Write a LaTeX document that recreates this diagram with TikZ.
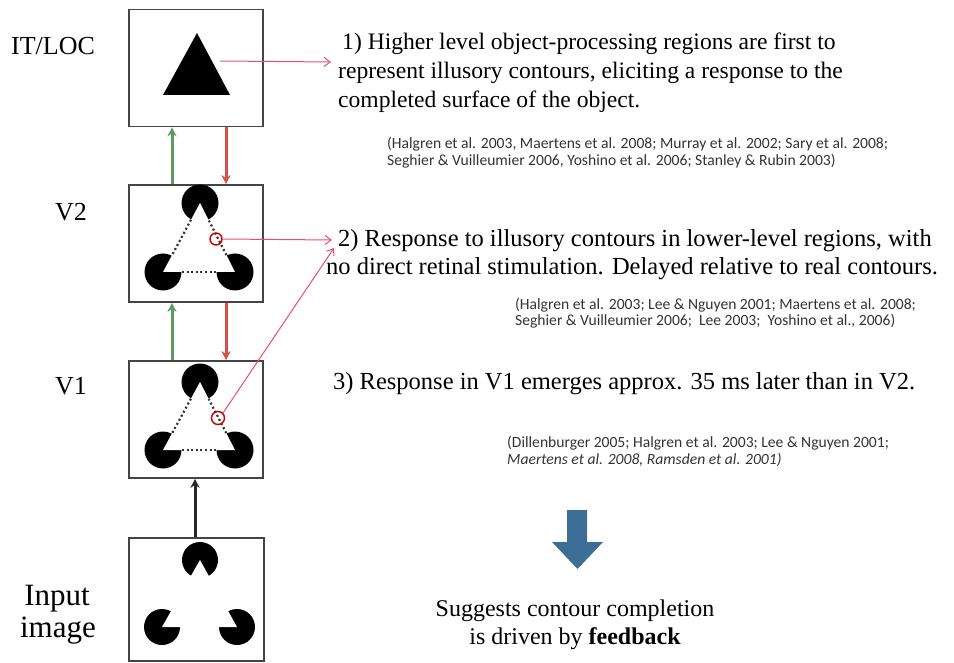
\documentclass[tikz,border=0pt]{standalone}
\usepackage{fontspec}
\setmainfont{Liberation Serif}
\newfontfamily\citefont{Carlito}
\usetikzlibrary{calc,arrows.meta}
\definecolor{grarrow}{HTML}{5E9A60}
\definecolor{rdarrow}{HTML}{D4504A}
\definecolor{pinkline}{HTML}{E8506A}
\definecolor{bluearrow}{HTML}{3D6E95}
\definecolor{boxgray}{HTML}{444444}
\definecolor{citegray}{HTML}{333333}
\tikzset{
  x=1pt,y=-1pt,
  areabox/.style={draw=boxgray,line width=1.6pt,minimum width=134pt,minimum height=117pt,inner sep=0pt},
  arealabel/.style={font=\fontsize{26}{30}\selectfont,anchor=base,inner sep=0pt},
  itemone/.style={font=\fontsize{23.6}{28}\selectfont,anchor=base west,inner sep=0pt},
  itemtext/.style={font=\fontsize{24.5}{28}\selectfont,anchor=base west,inner sep=0pt},
  citetext/.style={font=\citefont\fontsize{15.6}{17}\selectfont,text=citegray,anchor=base west,inner sep=0pt},
  fwd/.style={draw=grarrow,line width=3pt,-{Stealth[length=9pt,width=9pt]}},
  fbk/.style={draw=rdarrow,line width=3pt,-{Stealth[length=9pt,width=9pt]}},
  inarrow/.style={draw=black!85,line width=3pt,-{Stealth[length=9pt,width=9pt]}},
  pointer/.style={draw=pinkline,line width=1pt,-{Straight Barb[length=6pt,width=9pt]}},
  illus/.style={draw=black!80,line width=2.2pt,dash pattern=on 2pt off 2.6pt,shorten <=19pt,shorten >=19pt},
  ring/.style={draw=red!80!black,line width=1.4pt},
}
\begin{document}
\begin{tikzpicture}
\useasboundingbox (0,0) rectangle (954,663);
% boxes
\node[areabox] (it) at (196,68) {};
\node[areabox] (vtwo) at (196,243.5) {};
\node[areabox] (vone) at (196,419.5) {};
\node[areabox,minimum width=135pt,minimum height=123pt] (inp) at (196.5,599.5) {};
% labels
\node[arealabel] (itlab) at (53,55) {IT/LOC};
\node[arealabel] (vtwolab) at (71,221) {V2};
\node[arealabel] (vonelab) at (71,394) {V1};
\node[arealabel,font=\fontsize{31}{34}\selectfont] (inplab) at (57,605) {Input};
\node[arealabel,font=\fontsize{31}{34}\selectfont] (imglab) at (58,637) {image};
% IT triangle
\fill[black] (197,33) -- (163,95) -- (230,95) -- cycle;
\coordinate (itpt) at (220,61);
% V2 Kanizsa
\coordinate (a2) at (200,203); \coordinate (b2) at (163,272); \coordinate (c2) at (235,272);
\fill[black] (a2) circle (18.5) (b2) circle (18.5) (c2) circle (18.5);
\fill[white] (a2) -- (b2) -- (c2) -- cycle;
\draw[illus] (a2) -- (b2); \draw[illus] (b2) -- (c2); \draw[illus] (c2) -- (a2);
\node[ring,circle,minimum size=12pt,inner sep=0pt] (r2) at (216,239) {};
% V1 Kanizsa
\coordinate (a1) at (200,382); \coordinate (b1) at (163,450); \coordinate (c1) at (235,450);
\fill[black] (a1) circle (18.5) (b1) circle (18.5) (c1) circle (18.5);
\fill[white] (a1) -- (b1) -- (c1) -- cycle;
\draw[illus] (a1) -- (b1); \draw[illus] (b1) -- (c1); \draw[illus] (c1) -- (a1);
\node[ring,circle,minimum size=13pt,inner sep=0pt] (r1) at (218,418) {};
% Input pacmen
\coordinate (a0) at (200,560); \coordinate (b0) at (162,627); \coordinate (c0) at (237,627);
\fill[black] (a0) circle (18) (b0) circle (18) (c0) circle (18);
\fill[white] (a0) -- ($(a0)!0.62!(b0)$) -- ($(a0)!0.62!(c0)$) -- cycle;
\fill[white] (b0) -- ($(b0)!0.5!(a0)$) -- ($(b0)!0.5!(c0)$) -- cycle;
\fill[white] (c0) -- ($(c0)!0.5!(a0)$) -- ($(c0)!0.5!(b0)$) -- cycle;
% vertical arrows
\draw[fwd] ($(vtwo.north)+(-24,0)$) -- ($(it.south)+(-24,0)$);
\draw[fbk] ($(it.south)+(30,0)$) -- ($(vtwo.north)+(30,0)$);
\draw[fwd] ($(vone.north)+(-24,0)$) -- ($(vtwo.south)+(-24,0)$);
\draw[fbk] ($(vtwo.south)+(30,0)$) -- ($(vone.north)+(30,0)$);
\draw[inarrow] ($(inp.north)+(-1.5,0)$) -- ($(vone.south)+(-1,0)$);
% text items
\node[itemone] (t1a) at (342,50) {1) Higher level object-processing regions are first to};
\node[itemone] (t1b) at (338,79) {represent illusory contours, eliciting a response to the};
\node[itemone] (t1c) at (338,108) {completed surface of the object.};
\node[citetext] (c1a) at (387,149) {(Halgren et al. 2003, Maertens et al. 2008; Murray et al. 2002; Sary et al. 2008;};
\node[citetext] (c1b) at (387,166) {Seghier \& Vuilleumier 2006, Yoshino et al. 2006; Stanley \& Rubin 2003)};
\node[itemtext] (t2a) at (338,247) {2) Response to illusory contours in lower-level regions, with};
\node[itemtext] (t2b) at (326,275) {no direct retinal stimulation. Delayed relative to real contours.};
\node[citetext] (c2a) at (515,309) {(Halgren et al. 2003; Lee \& Nguyen 2001; Maertens et al. 2008;};
\node[citetext] (c2b) at (515,326) {Seghier \& Vuilleumier 2006;\ \ Lee 2003;\ \ Yoshino et al., 2006)};
\node[itemtext] (t3) at (333,389) {3) Response in V1 emerges approx. 35 ms later than in V2.};
\node[citetext] (c3a) at (507,447) {(Dillenburger 2005; Halgren et al. 2003; Lee \& Nguyen 2001;};
\node[citetext] (c3b) at (507,464) {\itshape Maertens et al. 2008, Ramsden et al. 2001)};
% pointers
\coordinate (tip1) at (331,62);
\coordinate (tip2) at (332,240);
\coordinate (tip3) at (334,248);
\draw[pointer] (itpt) -- (tip1);
\draw[pointer] (r2.east) -- (tip2);
\draw[pointer] (r1.north east) -- (tip3);
% blue arrow
\fill[bluearrow] (567,510) -- (587,510) -- (587,542) -- (603,542) -- (577.5,569) -- (552,542) -- (567,542) -- cycle;
% conclusion
\node[font=\fontsize{24}{28}\selectfont,anchor=base,inner sep=0pt] (cc1) at (575,616) {Suggests contour completion};
\node[font=\fontsize{24}{28}\selectfont,anchor=base,inner sep=0pt] (cc2) at (575,644) {is driven by \textbf{feedback}};
\end{tikzpicture}
\end{document}
